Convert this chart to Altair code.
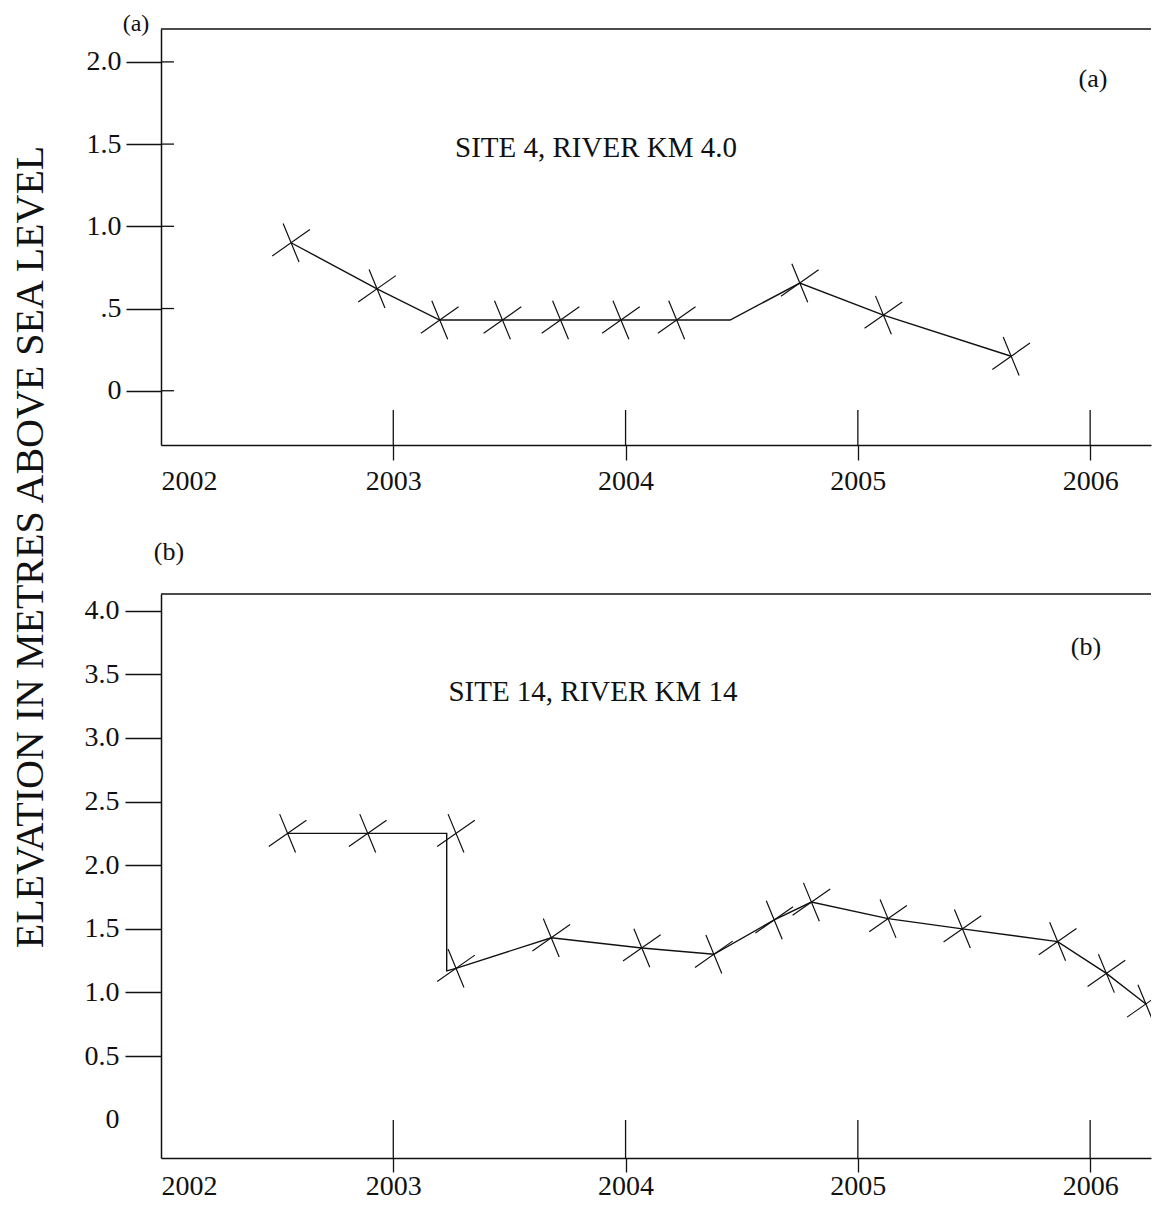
import altair as alt
import pandas as pd

# ---------------- data ----------------
# Panel (a): Site 4, river km 4.0
A_YEAR = [2002.56, 2002.93, 2003.20, 2003.47, 2003.72, 2003.98, 2004.22, 2004.45, 2004.75, 2005.11, 2005.66]
A_ELEV = [0.90, 0.62, 0.43, 0.43, 0.43, 0.43, 0.43, 0.43, 0.655, 0.46, 0.21]
A_MARKED = [True, True, True, True, True, True, True, False, True, True, True]

# Panel (b): Site 14, river km 14 (line path, incl. the vertical drop)
B_LINE_YEAR = [2002.545, 2002.89, 2003.23, 2003.23, 2003.27, 2003.68, 2004.07, 2004.38,
               2004.64, 2004.80, 2005.13, 2005.45, 2005.86, 2006.07, 2006.24]
B_LINE_ELEV = [2.25, 2.25, 2.25, 1.17, 1.19, 1.43, 1.35, 1.30,
               1.57, 1.71, 1.58, 1.50, 1.40, 1.15, 0.91]
# Panel (b) markers
B_MARK_YEAR = [2002.545, 2002.89, 2003.27, 2003.27, 2003.68, 2004.07, 2004.38,
               2004.64, 2004.80, 2005.13, 2005.45, 2005.86, 2006.07, 2006.24]
B_MARK_ELEV = [2.25, 2.25, 2.25, 1.19, 1.43, 1.35, 1.30,
               1.57, 1.71, 1.58, 1.50, 1.40, 1.15, 0.91]

X_TICKS = [2002, 2003, 2004, 2005, 2006]
X_INNER_TICKS = [2003, 2004, 2005, 2006]
A_Y_TICKS = [0, 0.5, 1.0, 1.5, 2.0]
B_Y_TICKS = [0, 0.5, 1.0, 1.5, 2.0, 2.5, 3.0, 3.5, 4.0]

TITLE_A = "SITE 4, RIVER KM 4.0"
TITLE_B = "SITE 14, RIVER KM 14"
Y_TITLE = "ELEVATION IN METRES ABOVE SEA LEVEL"

# ---------------- styling ----------------
FONT = "Liberation Serif"
INK = "#111111"
W = 990
HA = 416
HB = 564
X_DOMAIN = [2002, 2006.262]
A_DOMAIN = [-0.33, 2.2]
B_DOMAIN = [-0.3, 4.13]
MARKER = "M -0.38 -0.92 L 0.38 0.92 M -0.9 0.63 L 0.9 -0.63"
MSIZE = 1750

hide2002 = {"condition": {"test": "datum.value == 2002", "value": 0}, "value": 1}
hide0 = {"condition": {"test": "datum.value == 0", "value": 0}, "value": 1}


def xenc(tick_size, pad):
    return alt.X("x:Q",
                 scale=alt.Scale(domain=X_DOMAIN, nice=False, zero=False),
                 axis=alt.Axis(values=X_TICKS, format="d", title=None, tickSize=tick_size,
                               labelPadding=pad, labelFlush=True, tickOpacity=hide2002,
                               grid=False))


XA = xenc(15, 7)
XB = xenc(14, 0)
YA = alt.Y("y:Q", scale=alt.Scale(domain=A_DOMAIN, nice=False, zero=False),
           axis=alt.Axis(values=A_Y_TICKS, title=None, tickSize=35, labelPadding=5, grid=False,
                         labelExpr="datum.value == 0 ? '0' : (datum.value == 0.5 ? '.5' : format(datum.value, '.1f'))"))
YB = alt.Y("y:Q", scale=alt.Scale(domain=B_DOMAIN, nice=False, zero=False),
           axis=alt.Axis(values=B_Y_TICKS, title=None, tickSize=36, labelPadding=6, grid=False,
                         tickOpacity=hide0,
                         labelExpr="datum.value == 0 ? '0' : format(datum.value, '.1f')"))


def text_layer(label, px, py, size, angle=None):
    kw = dict(font=FONT, fontSize=size, color=INK, align="center", baseline="middle")
    if angle is not None:
        kw["angle"] = angle
    return alt.Chart(pd.DataFrame({"t": [label]})).mark_text(**kw).encode(
        x=alt.value(px), y=alt.value(py), text="t:N")


def top_border():
    return alt.Chart(pd.DataFrame({"k": [0]})).mark_rule(color=INK, strokeWidth=1.5).encode(
        x=alt.value(0), x2=alt.value(W), y=alt.value(0))


# ---------------- panel (a) ----------------
dfa = pd.DataFrame({"x": A_YEAR, "y": A_ELEV, "i": list(range(len(A_YEAR))), "m": A_MARKED})
line_a = alt.Chart(dfa).mark_line(color=INK, strokeWidth=1.4, clip=True).encode(x=XA, y=YA, order="i:Q")
pts_a = alt.Chart(dfa[dfa["m"]]).mark_point(shape=MARKER, size=MSIZE, filled=False, color=INK,
                                             strokeWidth=1.2, opacity=1, clip=True).encode(x=XA, y=YA)
xin_a = alt.Chart(pd.DataFrame({"x": X_INNER_TICKS})).mark_rule(color=INK, strokeWidth=1.3).encode(
    x=XA, y=alt.value(HA - 35), y2=alt.value(HA))
yin_a = alt.Chart(pd.DataFrame({"y": A_Y_TICKS})).mark_rule(color=INK, strokeWidth=1.3).encode(
    y=YA, x=alt.value(0), x2=alt.value(13))

panel_a = alt.layer(
    top_border(), xin_a, yin_a, line_a, pts_a,
    text_layer("(a)", -25, -5, 24),
    text_layer("(a)", 932, 50, 26),
    text_layer(TITLE_A, 435, 119, 29),
    text_layer(Y_TITLE, -130, 518, 40, angle=270),
).properties(width=W, height=HA)

# ---------------- panel (b) ----------------
dfb_line = pd.DataFrame({"x": B_LINE_YEAR, "y": B_LINE_ELEV, "i": list(range(len(B_LINE_YEAR)))})
dfb_pts = pd.DataFrame({"x": B_MARK_YEAR, "y": B_MARK_ELEV})
line_b = alt.Chart(dfb_line).mark_line(color=INK, strokeWidth=1.4, clip=True).encode(x=XB, y=YB, order="i:Q")
pts_b = alt.Chart(dfb_pts).mark_point(shape=MARKER, size=MSIZE, filled=False, color=INK,
                                      strokeWidth=1.2, opacity=1, clip=True).encode(x=XB, y=YB)
xin_b = alt.Chart(pd.DataFrame({"x": X_INNER_TICKS})).mark_rule(color=INK, strokeWidth=1.3).encode(
    x=XB, y=alt.value(HB - 38), y2=alt.value(HB))

panel_b = alt.layer(
    top_border(), xin_b, line_b, pts_b,
    text_layer("(b)", 8, -42, 26),
    text_layer("(b)", 925, 53, 26),
    text_layer(TITLE_B, 432, 98, 29),
).properties(width=W, height=HB)

chart = alt.vconcat(panel_a, panel_b, spacing=149, bounds="flush").properties(
    padding={"left": 10, "top": 12, "right": 0, "bottom": 0}
).configure_view(stroke=None).configure_axis(
    labelFont=FONT, labelFontSize=28, labelColor=INK, domainColor=INK, tickColor=INK,
    domainWidth=1.5, tickWidth=1.3, grid=False
)

chart.save("out.html", embed_options={"renderer": "svg", "actions": False})
